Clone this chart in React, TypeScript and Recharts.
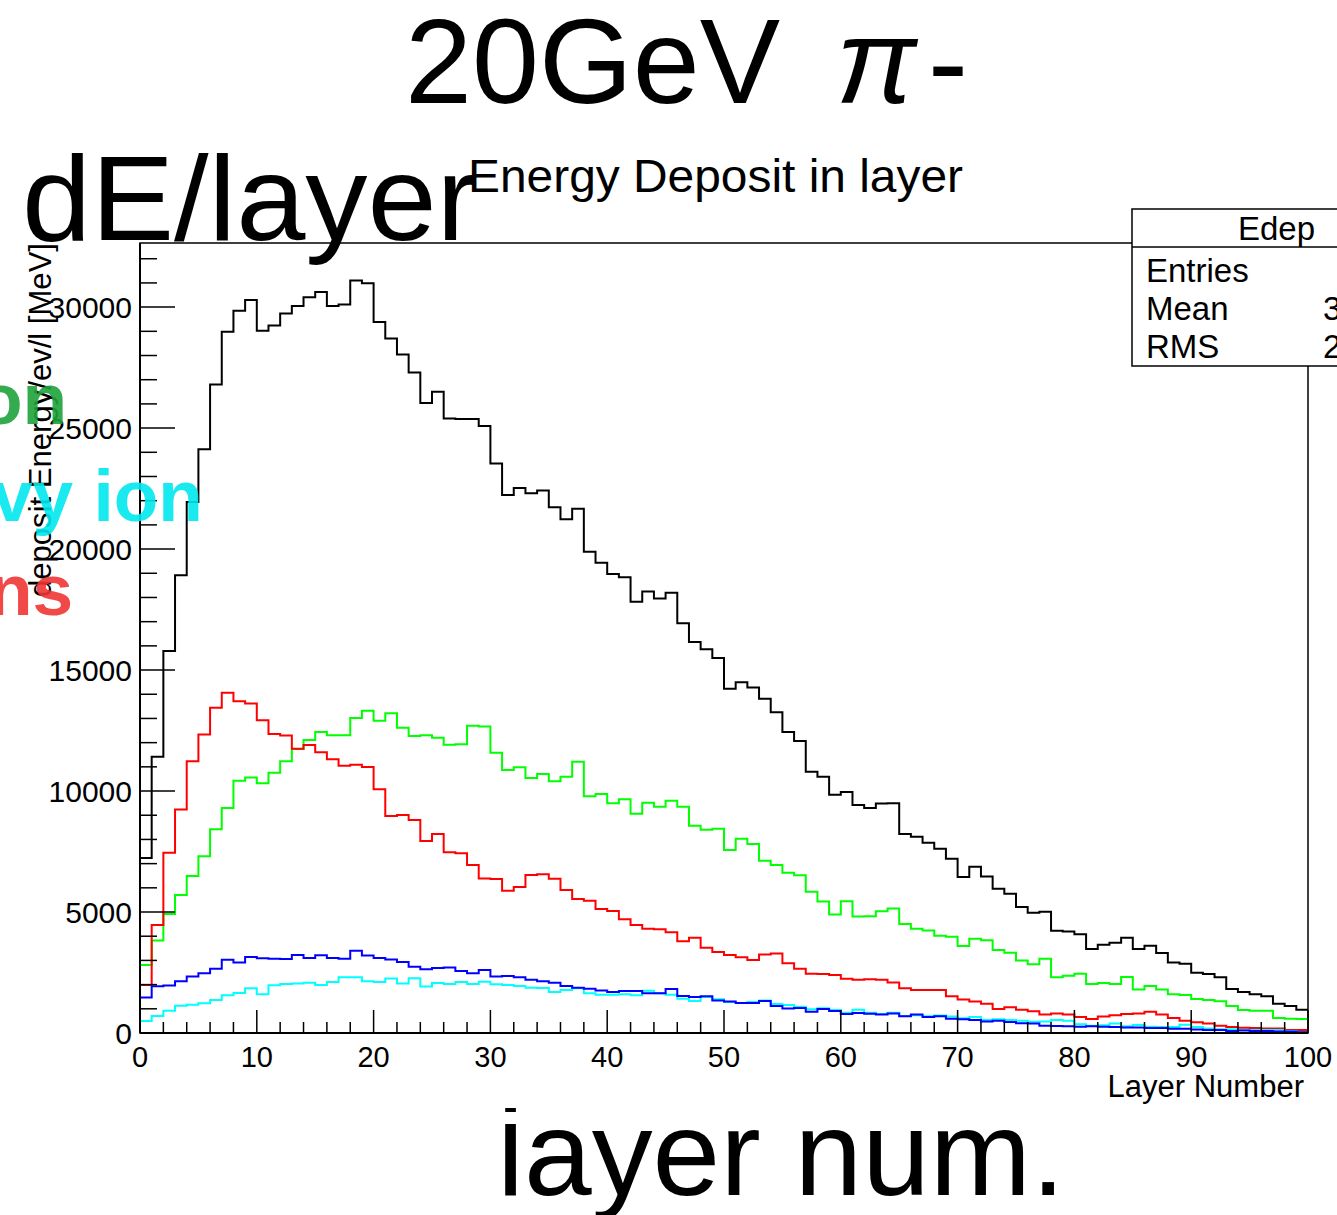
import React from 'react';
import { ComposedChart, Line, XAxis, YAxis, ReferenceArea } from 'recharts';

const FONT = '"Liberation Sans", Arial, Helvetica, sans-serif';

// deposited energy per layer [MeV/ev/l], bins 0..99
const edepAll = [
  7230, 11420, 15790, 18920, 21950, 24130, 26800, 28980, 29850, 30290,
  29020, 29240, 29740, 30050, 30410, 30630, 30050, 30110, 31100, 30990,
  29380, 28700, 28040, 27300, 26040, 26500, 25400, 25380, 25380, 25090,
  23540, 22230, 22520, 22310, 22420, 21730, 21230, 21670, 19890, 19430,
  18970, 18840, 17820, 18250, 17960, 18190, 16930, 16160, 15860, 15500,
  14230, 14500, 14280, 13810, 13260, 12440, 12070, 10800, 10590, 9850,
  9960, 9420, 9300, 9480, 9500, 8220, 8110, 7860, 7620, 7200,
  6450, 6870, 6470, 5960, 5760, 5210, 4970, 5010, 4230, 4200,
  4080, 3470, 3650, 3730, 3940, 3470, 3610, 3310, 2910, 2860,
  2490, 2440, 2300, 1820, 1690, 1600, 1520, 1210, 1120, 960,
];

const edepRed = [
  1980, 4460, 7450, 9240, 11230, 12340, 13440, 14060, 13710, 13620,
  12930, 12360, 12300, 11750, 11900, 11600, 11310, 11050, 11090, 10990,
  10070, 8970, 9010, 8800, 7940, 8220, 7470, 7430, 6940, 6390,
  6360, 5880, 6030, 6530, 6560, 6380, 5910, 5540, 5470, 5120,
  5040, 4700, 4460, 4310, 4290, 4160, 3790, 3940, 3520, 3350,
  3220, 3130, 3020, 3240, 3290, 2880, 2660, 2450, 2440, 2400,
  2240, 2200, 2220, 2200, 2090, 1850, 1780, 1780, 1780, 1520,
  1380, 1300, 1210, 990, 1060, 960, 900, 760, 810, 760,
  660, 580, 680, 730, 790, 810, 880, 760, 620, 510,
  440, 390, 300, 250, 220, 210, 190, 190, 120, 120,
];

const edepGreen = [
  2810, 3820, 4920, 5700, 6490, 7310, 8420, 9300, 10430, 10560,
  10320, 10760, 11230, 11740, 12110, 12440, 12310, 12310, 13020, 13320,
  12910, 13210, 12620, 12270, 12310, 12200, 11910, 11930, 12700, 12670,
  11580, 10870, 10980, 10540, 10700, 10400, 10590, 11210, 9780, 9880,
  9500, 9660, 9060, 9520, 9350, 9600, 9350, 8570, 8400, 8440,
  7560, 8030, 7810, 7120, 6940, 6620, 6520, 5840, 5430, 4900,
  5440, 4810, 4830, 5030, 5150, 4500, 4310, 4240, 4020, 3980,
  3600, 3900, 3830, 3430, 3320, 3000, 2840, 3070, 2300, 2370,
  2450, 2030, 2070, 2030, 2310, 1800, 1940, 1800, 1600, 1570,
  1410, 1360, 1310, 1120, 950, 920, 920, 620, 590, 580,
];

const edepBlue = [
  1470, 1930, 1960, 2140, 2330, 2470, 2660, 3030, 2910, 3140,
  3090, 3070, 3060, 3220, 3100, 3210, 3100, 3070, 3400, 3200,
  3100, 3040, 2930, 2740, 2630, 2690, 2710, 2560, 2470, 2600,
  2340, 2360, 2300, 2200, 2140, 2080, 1940, 1870, 1830, 1760,
  1690, 1740, 1740, 1640, 1640, 1820, 1530, 1490, 1520, 1340,
  1300, 1240, 1240, 1320, 1120, 1010, 1030, 880, 990, 910,
  790, 830, 800, 760, 810, 690, 760, 660, 690, 590,
  570, 540, 480, 510, 450, 400, 390, 300, 290, 280,
  260, 280, 260, 250, 230, 230, 210, 210, 180, 180,
  140, 120, 120, 80, 100, 80, 80, 60, 60, 30,
];

const edepCyan = [
  500, 700, 920, 1130, 1170, 1230, 1360, 1560, 1650, 1850,
  1600, 1970, 2030, 2050, 2080, 1980, 2110, 2300, 2300, 2140,
  2110, 2250, 2050, 2260, 1920, 2070, 2030, 2110, 2030, 2120,
  2010, 1980, 1940, 1870, 1860, 1690, 1780, 1850, 1640, 1580,
  1580, 1600, 1560, 1750, 1640, 1580, 1420, 1320, 1490, 1390,
  1280, 1240, 1280, 1340, 1200, 1160, 1090, 980, 1020, 950,
  840, 960, 840, 790, 840, 700, 730, 690, 720, 680,
  610, 660, 540, 570, 540, 510, 470, 480, 540, 510,
  360, 300, 320, 390, 280, 330, 260, 250, 250, 340,
  250, 190, 150, 150, 120, 120, 120, 120, 80, 40,
];

const xTicks = [0, 2, 4, 6, 8, 10, 12, 14, 16, 18, 20, 22, 24, 26, 28, 30, 32, 34, 36, 38, 40,
  42, 44, 46, 48, 50, 52, 54, 56, 58, 60, 62, 64, 66, 68, 70, 72, 74, 76, 78, 80,
  82, 84, 86, 88, 90, 92, 94, 96, 98, 100];
const yTicks = [0, 1000, 2000, 3000, 4000, 5000, 6000, 7000, 8000, 9000, 10000,
  11000, 12000, 13000, 14000, 15000, 16000, 17000, 18000, 19000, 20000,
  21000, 22000, 23000, 24000, 25000, 26000, 27000, 28000, 29000, 30000, 31000, 32000];
const Y_MAX = 32650;

// one row per bin low edge; the extra row at 100 closes the last bin
const rows = [...edepAll.map((_, i) => i), 100].map((layer) => {
  const i = Math.min(layer, 99);
  return {
    layer,
    all: edepAll[i],
    red: edepRed[i],
    green: edepGreen[i],
    blue: edepBlue[i],
    cyan: edepCyan[i],
  };
});

const XTick = (props: any) => {
  const { x, y, payload } = props;
  const major = payload.value % 10 === 0;
  return (
    <g>
      <line x1={x} x2={x} y1={y} y2={y - (major ? 23 : 11)} stroke="#000" strokeWidth={1.5} />
      {major && (
        <text x={x} y={y + 34} textAnchor="middle" fontSize={29} fontFamily={FONT} fill="#000">
          {payload.value}
        </text>
      )}
    </g>
  );
};

const YTick = (props: any) => {
  const { x, y, payload } = props;
  const major = payload.value % 5000 === 0;
  return (
    <g>
      <line x1={x} x2={x + (major ? 35 : 17)} y1={y} y2={y} stroke="#000" strokeWidth={1.5} />
      {major && (
        <text x={x - 8} y={y + 11} textAnchor="end" fontSize={30} fontFamily={FONT} fill="#000">
          {payload.value}
        </text>
      )}
    </g>
  );
};

const series = [
  { key: 'all', color: '#000000' },
  { key: 'green', color: '#00ff00' },
  { key: 'red', color: '#ff0000' },
  { key: 'cyan', color: '#00ffff' },
  { key: 'blue', color: '#0000ff' },
];

export default function App() {
  return (
    <div style={{ position: 'absolute', left: 0, top: 0, width: 1337, height: 1215, background: '#fff', overflow: 'hidden' }}>
      {/* slide caption behind the canvas; a strip of the canvas hides part of it */}
      <svg width={1337} height={1215} style={{ position: 'absolute', left: 0, top: 0 }}>
        <text x={497} y={1195} fontSize={120} fontFamily={FONT} fill="#000" textLength={568} lengthAdjust="spacingAndGlyphs">
          layer num.
        </text>
        <rect x={480} y={1112} width={620} height={12} fill="#fff" />
      </svg>

      <div style={{ position: 'absolute', left: 0, top: 0 }}>
        <ComposedChart
          width={1337}
          height={1215}
          data={rows}
          margin={{ top: 243, right: 29, bottom: 142, left: 80 }}
        >
          <ReferenceArea x1={0} x2={100} y1={0} y2={Y_MAX} fill="none" stroke="#000" strokeWidth={1.5} />
          <XAxis
            type="number"
            dataKey="layer"
            domain={[0, 100]}
            ticks={xTicks}
            interval={0}
            height={40}
            tickSize={0}
            tickMargin={0}
            tick={<XTick />}
            axisLine={{ stroke: '#000', strokeWidth: 2 }}
            tickLine={false}
          />
          <YAxis
            type="number"
            domain={[0, Y_MAX]}
            ticks={yTicks}
            interval={0}
            width={60}
            tickSize={0}
            tickMargin={0}
            tick={<YTick />}
            axisLine={{ stroke: '#000', strokeWidth: 2 }}
            tickLine={false}
          />
          {series.map((s) => (
            <Line
              key={s.key}
              type="stepAfter"
              dataKey={s.key}
              stroke={s.color}
              strokeWidth={2}
              dot={false}
              activeDot={false}
              isAnimationActive={false}
            />
          ))}
        </ComposedChart>
      </div>

      <svg width={1337} height={1215} style={{ position: 'absolute', left: 0, top: 0, pointerEvents: 'none' }}>
        <g fontFamily={FONT} fill="#000">
          <text x={405} y={103} fontSize={120} textLength={375} lengthAdjust="spacingAndGlyphs">20GeV</text>
          <text x={836} y={103} fontSize={120} fontStyle="italic">π</text>
          <text x={928} y={103} fontSize={120}>-</text>

          <text x={22} y={240} fontSize={120} textLength={456} lengthAdjust="spacingAndGlyphs">dE/layer</text>

          <text x={468} y={192} fontSize={46} textLength={495} lengthAdjust="spacingAndGlyphs">Energy Deposit in layer</text>

          <text x={1304} y={1097} fontSize={31} textAnchor="end">Layer Number</text>
          <text
            transform="translate(51,243) rotate(-90)"
            fontSize={31}
            textAnchor="end"
            textLength={354}
            lengthAdjust="spacingAndGlyphs"
          >
            deposit Energy/ev/l [MeV]
          </text>
        </g>

        <g fontFamily={FONT} fontWeight="bold" fontSize={73} opacity={0.9}>
          <text x={-22} y={424} fill="#1fa33a">on</text>
          <text x={-8} y={521} fill="#00e8ee">vy ion</text>
          <text x={-12} y={615} fill="#f03535">ns</text>
        </g>

        <g fontFamily={FONT} fontSize={33} fill="#000">
          <rect x={1132} y={209} width={230} height={157} fill="#fff" stroke="#000" strokeWidth={1.5} />
          <line x1={1132} x2={1337} y1={247} y2={247} stroke="#000" strokeWidth={1.5} />
          <text x={1238} y={240}>Edep</text>
          <text x={1146} y={282}>Entries</text>
          <text x={1146} y={320}>Mean</text>
          <text x={1146} y={358}>RMS</text>
          <text x={1323} y={320}>3</text>
          <text x={1323} y={358}>2</text>
        </g>
      </svg>
    </div>
  );
}
